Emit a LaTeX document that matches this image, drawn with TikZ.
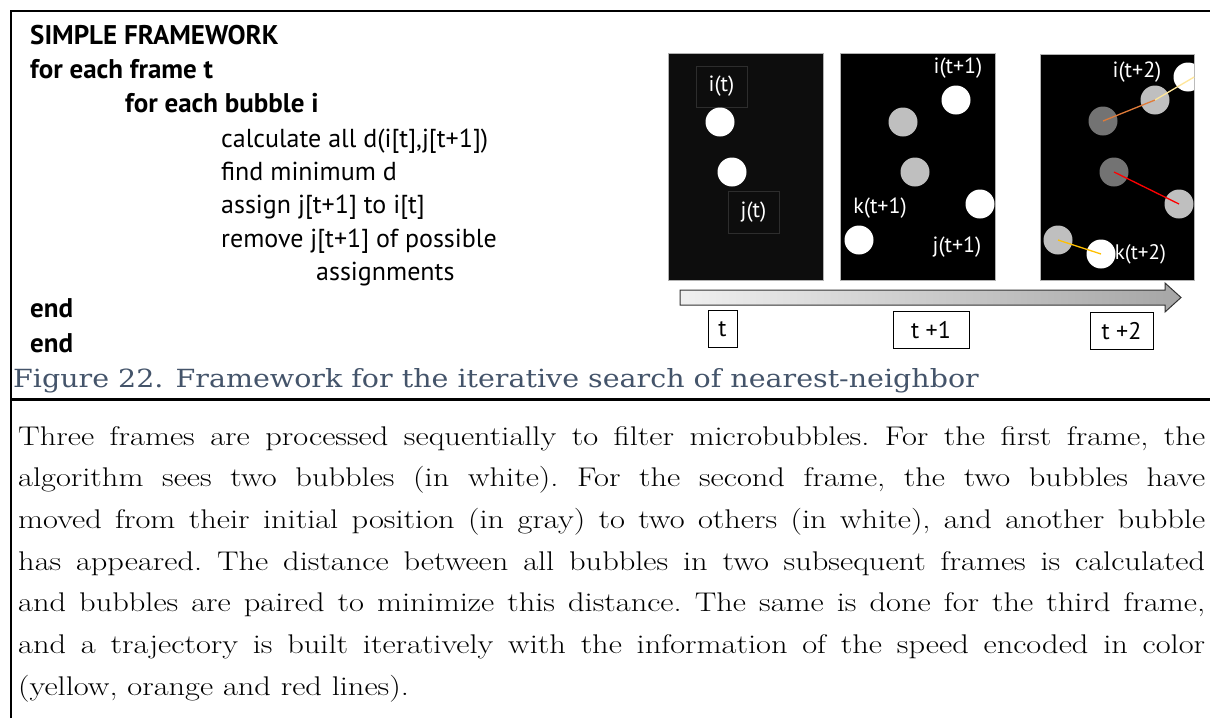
\documentclass[tikz,border=0pt]{standalone}
\usepackage{fontspec}
\usetikzlibrary{positioning,calc}
\newfontfamily\codefont{PT Sans}
\newfontfamily\capfont[FakeStretch=1.14]{DejaVu Serif}
\newfontfamily\bodyfont[FakeStretch=1.2]{Latin Modern Roman}
\definecolor{capblue}{HTML}{44546A}
\definecolor{framebg}{HTML}{0D0D0D}
\definecolor{lightbub}{HTML}{BFBFBF}
\definecolor{darkbub}{HTML}{737373}
\definecolor{trailorange}{HTML}{E07B39}
\definecolor{trailpale}{HTML}{FFE699}
\definecolor{trailgold}{HTML}{FFC000}
\tikzset{
    code/.style={anchor=base west, inner sep=0pt, font=\codefont\fontsize{26}{30}\selectfont},
    codebold/.style={code, font=\codefont\bfseries\fontsize{27}{30}\selectfont},
    frame/.style={rectangle, draw=gray!60, fill=black, minimum width=155pt, minimum height=227pt, inner sep=0pt},
    bubble/.style={circle, minimum size=29pt, inner sep=0pt},
    newbub/.style={bubble, fill=white},
    oldbub/.style={bubble, fill=lightbub},
    olderbub/.style={bubble, fill=darkbub},
    tag/.style={text=white, inner sep=0pt, font=\codefont\fontsize{22}{24}\selectfont},
    tagbox/.style={tag, draw=gray!35!black, minimum width=51pt, minimum height=41pt},
    timebox/.style={draw=black, inner sep=0pt, minimum height=37pt, font=\codefont\fontsize{24}{26}\selectfont},
    trail/.style={line width=1.3pt},
}
\begin{document}
\begin{tikzpicture}[x=1pt, y=-1pt]
    \useasboundingbox (0,0) rectangle (1210,718);
    % outer rules
    \draw[line width=2pt] (11,718) -- (11,11) -- (1210,11);
    \draw[line width=3pt] (11,399) -- (1210,399);

    % pseudo code
    \node[codebold] (title) at (30,44) {SIMPLE FRAMEWORK};
    \node[codebold] (loopt) at (30,78) {for each frame t};
    \node[codebold] (loopi) at (125,112) {for each bubble i};
    \node[code] (calc) at (221,147) {calculate all d(i[t],j[t+1])};
    \node[code] (findd) at (221,180) {find minimum d};
    \node[code] (assign) at (221,213) {assign j[t+1] to i[t]};
    \node[code] (remove) at (221,247) {remove j[t+1] of possible};
    \node[code] (assigns) at (316,280) {assignments};
    \node[codebold] (endi) at (30,317) {end};
    \node[codebold] (endt) at (30,352) {end};

    % frames
    \node[frame, fill=framebg] (frameA) at (745.5,166.5) {};
    \node[frame] (frameB) at (917.5,166.5) {};
    \node[frame, minimum width=154pt, minimum height=226pt] (frameC) at (1117,167) {};

    % frame t
    \node[tagbox] (it) at (721.5,86.5) {i(t)};
    \node[newbub] (a1) at (720,122) {};
    \node[newbub] (a2) at (732,172) {};
    \node[tagbox, minimum height=42pt] (jt) at (753.5,212) {j(t)};

    % frame t+1
    \node[tag] (it1) at (958,68) {i(t+1)};
    \node[oldbub] (b1) at (903,122) {};
    \node[oldbub] (b2) at (915,172) {};
    \node[newbub] (bi) at (956,100) {};
    \node[newbub] (bj) at (980,204) {};
    \node[newbub] (bk) at (859,240) {};
    \node[tag] (kt1) at (880,208) {k(t+1)};
    \node[tag] (jt1) at (957,247) {j(t+1)};

    % frame t+2
    \begin{scope}
        \clip (frameC.south west) rectangle (frameC.north east);
        \node[newbub] (ci) at (1188,77) {};
    \end{scope}
    \node[olderbub] (c1) at (1103,121) {};
    \node[olderbub] (c2) at (1114,172) {};
    \node[oldbub] (cbi) at (1155,100) {};
    \node[oldbub] (cbj) at (1179,204) {};
    \node[oldbub] (cbk) at (1058,240) {};
    \node[newbub] (ck) at (1101,254) {};
    \node[tag] (it2) at (1137,72) {i(t+2)};
    \node[tag, anchor=west, font=\codefont\fontsize{21}{24}\selectfont] (kt2) at ([xshift=-1pt]ck.east) {k(t+2)};
    \draw[trail, trailorange] (c1.center) -- (cbi.center);
    \draw[trail, trailpale] (cbi.center) -- (frameC.east |- ci.center);
    \draw[trail, red] (c2.center) -- (cbj.center);
    \draw[trail, trailgold] (cbk.center) -- (ck.center);

    % time axis
    \shade[left color=gray!12, right color=gray!70, draw=gray!40!black, line width=1pt]
        (680,290) -- (1165,290) -- (1165,283) -- (1181,297.5) -- (1165,312) -- (1165,305) -- (680,305) -- cycle;
    \node[timebox, minimum width=29pt] (tA) at (722.5,329) {t};
    \node[timebox, minimum width=76pt] (tB) at (931,330) {t +1};
    \node[timebox, minimum width=63pt] (tC) at (1121.5,331) {t +2};

    % caption
    \node[anchor=base west, inner sep=0pt, text=capblue, font=\capfont\fontsize{25}{27}\selectfont] (caption) at (13,387)
        {Figure 22. Framework for the iterative search of nearest-neighbor};

    % explanation
    \node[anchor=north west, inner sep=0pt, text width=1187pt, align=justify,
          font=\bodyfont\fontsize{27}{41.7}\selectfont\frenchspacing] (expl) at (18,426)
        {Three frames are processed sequentially to filter microbubbles. For the first frame, the\linebreak
         algorithm sees two bubbles (in white). For the second frame, the two bubbles have\linebreak
         moved from their initial position (in gray) to two others (in white), and another bubble\linebreak
         has appeared. The distance between all bubbles in two subsequent frames is calculated\linebreak
         and bubbles are paired to minimize this distance. The same is done for the third frame,\linebreak
         and a trajectory is built iteratively with the information of the speed encoded in color\linebreak
         (yellow, orange and red lines).};
\end{tikzpicture}
\end{document}
